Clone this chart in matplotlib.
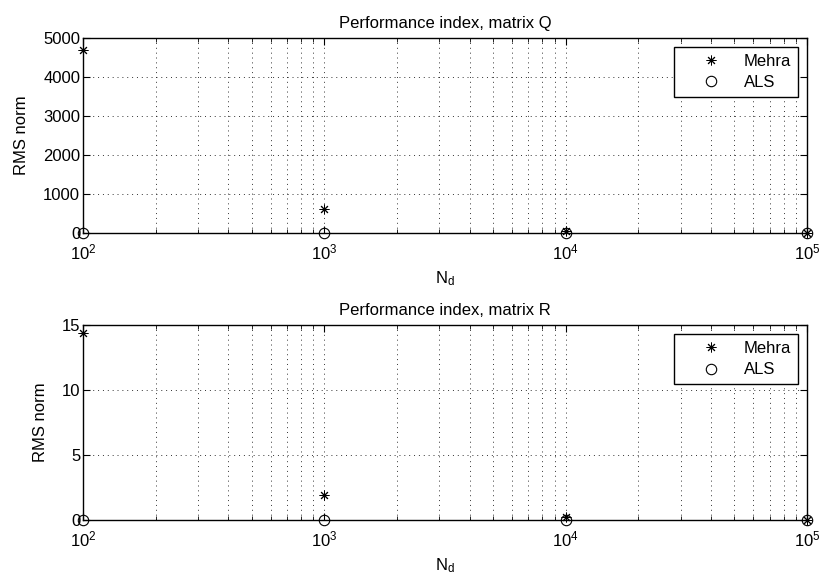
import matplotlib
matplotlib.use("Agg")
import matplotlib.pyplot as plt
from matplotlib.ticker import LogLocator, NullFormatter, FuncFormatter
import numpy as np

plt.rcParams['font.family'] = ['Liberation Sans', 'DejaVu Sans']
plt.rcParams['font.size'] = 12
plt.rcParams['mathtext.default'] = 'regular'

# data
n_d = [1e2, 1e3, 1e4, 1e5]
mehra_q = [4700, 620, 60, 5]
als_q = [2, 1, 0.5, 0.2]
mehra_r = [14.4, 1.9, 0.2, 0.02]
als_r = [0.01, 0.005, 0.002, 0.001]

titles = ['Performance index, matrix Q', 'Performance index, matrix R']
ylims = [(0, 5000), (0, 15)]
yticks = [[0, 1000, 2000, 3000, 4000, 5000], [0, 5, 10, 15]]

fig = plt.figure(figsize=(8.22, 5.82), dpi=100)
rects = [[83/822, 1 - 233/582, 724/822, 195/582],
         [83/822, 1 - 520/582, 724/822, 195/582]]

pow10 = FuncFormatter(lambda v, p: '10$^{%d}$' % int(round(np.log10(v))))
dots = (0, (1, 4))

for rect, mehra, als, title, ylim, yt in zip(rects, [mehra_q, mehra_r], [als_q, als_r], titles, ylims, yticks):
    ax = fig.add_axes(rect)
    ax.semilogx(n_d, mehra, linestyle='none', marker=(8, 2, 0), color='k', markersize=7,
                markeredgewidth=0.7, label='Mehra', clip_on=False)
    ax.semilogx(n_d, als, linestyle='none', marker='o', markerfacecolor='none',
                markeredgecolor='k', markersize=7.5, markeredgewidth=0.8, label='ALS', clip_on=False)
    ax.set_xlim(1e2, 1e5)
    ax.set_ylim(*ylim)
    ax.set_yticks(yt)
    ax.xaxis.set_major_formatter(pow10)
    ax.xaxis.set_minor_locator(LogLocator(base=10, subs=range(2, 10)))
    ax.xaxis.set_minor_formatter(NullFormatter())
    ax.grid(True, which='major', linestyle=dots, color='k', linewidth=0.7, alpha=0.8)
    ax.grid(True, which='minor', axis='x', linestyle=dots, color='k', linewidth=0.7, alpha=0.8)
    ax.tick_params(which='both', direction='in', top=True, right=True, labelsize=12)
    ax.tick_params(which='major', length=5)
    ax.tick_params(which='minor', length=3)
    ax.tick_params(axis='x', which='major', pad=7)
    ax.tick_params(axis='y', which='major', pad=2)
    for s in ax.spines.values():
        s.set_linewidth(1.0)
    ax.set_title(title, fontsize=12, pad=7)
    ax.set_xlabel('N$_{d}$', fontsize=12, labelpad=5)
    ax.set_ylabel('RMS norm', fontsize=12, labelpad=10)
    leg = ax.legend(loc='upper right', fancybox=False, edgecolor='k', framealpha=1,
                    fontsize=12, handletextpad=0.2, borderpad=0.4, labelspacing=0.4,
                    handlelength=3.6, borderaxespad=0, bbox_to_anchor=(1 - 9/724, 1 - 9/195))
    leg.get_frame().set_linewidth(1.0)

fig.savefig('out.png', dpi=100)
